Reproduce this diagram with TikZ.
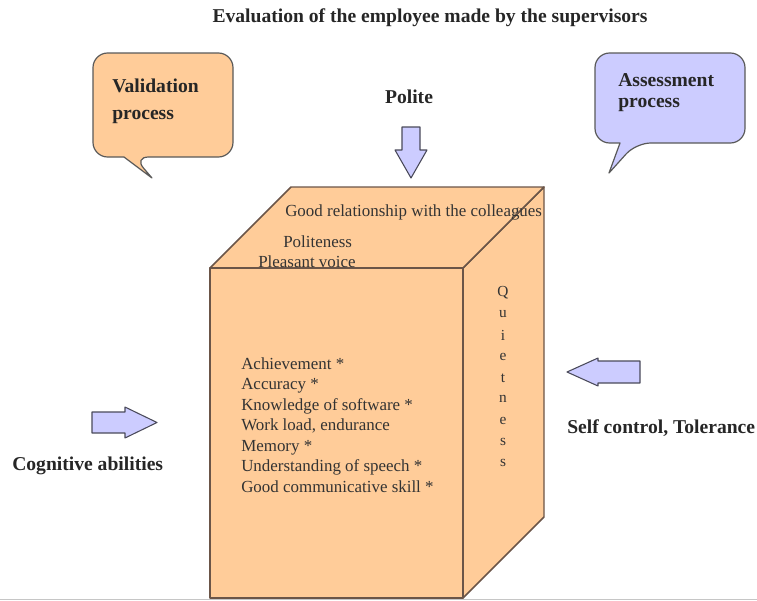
\documentclass[tikz,border=0pt]{standalone}
\usepackage{fontspec}
\setmainfont{Liberation Serif}
\definecolor{peach}{HTML}{FFCC99}
\definecolor{lila}{HTML}{CCCCFF}
\definecolor{brn}{HTML}{6B5548}
\definecolor{dgr}{HTML}{4A4A5A}
\begin{document}
\begin{tikzpicture}[x=0.75pt,y=-0.75pt,line join=round,
	bold/.style={font=\bfseries\fontsize{14.7}{17}\selectfont,text=black!85,inner sep=0pt},
	txt/.style={font=\fontsize{12.7}{15.4}\selectfont,text=black!80,inner sep=0pt,anchor=west},
	box/.style={fill=peach,draw=brn,line width=1.1pt},
	blk/.style={fill=lila,draw=dgr,line width=0.8pt}]
		\def\d{81} % depth of the box
		%	\draw[gray!30] (0,0) grid[step=50] (757,600);
		\useasboundingbox (0,0) rectangle (757,600);
		\draw[gray!45] (0,599) -- (757,599);
		\node[bold] (title) at (430,18) {Evaluation of the employee made by the supervisors};
		% bubbles
		\draw[box,line width=0.9pt,draw=black!65] (93,100) [rounded corners=11pt] -- (93,53) -- (233,53) -- (233,157) -- (134,157) [sharp corners] -- (152,178) -- (124,157) [rounded corners=11pt] -- (93,157) -- cycle;
		\node[bold,anchor=west,align=left,font=\bfseries\fontsize{14.7}{20}\selectfont] (valid) at (112,101.5) {Validation\\process};
		\draw[blk,line width=0.9pt,draw=black!65] (745,100) [rounded corners=11pt] -- (745,143) -- (636,143) [sharp corners] -- (609,173) -- (620,143) [rounded corners=11pt] -- (595,143) -- (595,53) -- (745,53) -- cycle;
		\node[bold,anchor=west,align=left,font=\bfseries\fontsize{14.7}{15.75}\selectfont] (assess) at (618,92.5) {Assessment\\process};
		% the box
		\draw[box] (463,268) -- ++(\d,-\d) -- (544,517) -- (463,598) -- cycle;
		\draw[box] (210,268) -- ++(\d,-\d) -- (544,187) -- (463,268) -- cycle;
		\draw[box] (210,268) rectangle (463,598);
		\node[txt] (rel) at (285,212) {Good relationship with the colleagues};
		\node[txt] (polit) at (283,242) {Politeness};
		\node[txt] (voice) at (258,262) {Pleasant voice};
		\node[txt,align=left] (skills) at (241,425) {Achievement *\\Accuracy *\\Knowledge of software *\\Work load, endurance\\Memory *\\Understanding of speech *\\Good communicative skill *};
		\foreach \l [count=\i] in {Q,u,i,e,t,n,e,s,s}
			\node[txt,anchor=center,font=\fontsize{11.5}{13}\selectfont] (q\i) at (503,{293+21.25*(\i-1)}) {\l};
		% arrows
		\node[bold] (polite) at (409,97) {Polite};
		\draw[blk] (402,127) -- (420,127) -- (420,150) -- (427,150) -- (411,178) -- (395,150) -- (402,150) -- cycle;
		\draw[blk] (92,412) -- (125,412) -- (125,407) -- (157,422.5) -- (125,438) -- (125,433) -- (92,433) -- cycle;
		\node[bold,anchor=west] (cogn) at (12,466) {Cognitive abilities};
		\draw[blk] (640,361) -- (598,361) -- (598,358) -- (567,372) -- (598,386) -- (598,383) -- (640,383) -- cycle;
		\node[bold,anchor=west] (selfc) at (567,428) {Self control, Tolerance};
\end{tikzpicture}
\end{document}
